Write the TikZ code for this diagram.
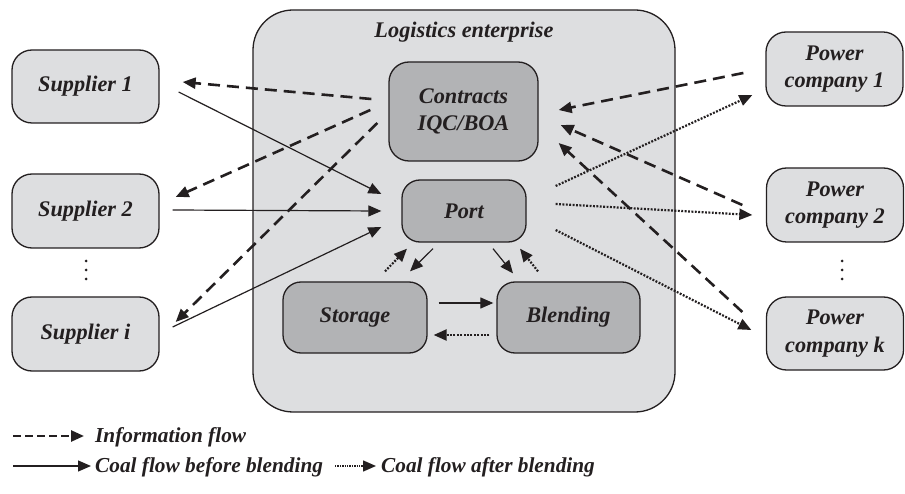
\documentclass[tikz,border=0pt]{standalone}
\usepackage{fontspec}
\setmainfont{Liberation Serif}
\usetikzlibrary{arrows.meta,calc}

\definecolor{lightbox}{RGB}{221,222,224}
\definecolor{darkbox}{RGB}{178,179,181}
\definecolor{inkline}{RGB}{35,31,32}

\tikzset{
  lbl/.style={font=\bfseries\itshape\fontsize{22.3}{27.5}\selectfont, text=inkline},
  keytext/.style={font=\bfseries\itshape\fontsize{21.3}{26}\selectfont, text=inkline,
    anchor=west, inner sep=0pt},
  outerbox/.style={draw=inkline, line width=1.3pt, fill=lightbox,
    rounded corners=40pt, minimum width=422pt, minimum height=402pt, inner sep=0pt},
  sidebox/.style={lbl, draw=inkline, line width=1.3pt, fill=lightbox,
    rounded corners=20pt, align=center, inner sep=0pt},
  corebox/.style={lbl, draw=inkline, line width=1.3pt, fill=darkbox,
    rounded corners=20pt, align=center, inner sep=0pt},
  tip/.style={-{Triangle[length=13pt,width=11pt]}},
  info/.style={tip, draw=inkline, line width=2.6pt, dash pattern=on 12pt off 7pt},
  coal/.style={tip, draw=inkline, line width=1.2pt},
  blended/.style={tip, draw=inkline, line width=2.2pt, dash pattern=on 1.9pt off 1.5pt},
}

\begin{document}
\begin{tikzpicture}[x=1pt, y=-1pt]
\useasboundingbox (0,0) rectangle (905,494);

% logistics enterprise and its units
\node[outerbox] (out) at (464,211) {};
\node[lbl] (title) at (464,32) {Logistics enterprise};
\node[corebox, minimum width=149pt, minimum height=99pt] (con) at (463.5,111.5) {Contracts\\IQC/BOA};
\node[corebox, minimum width=124pt, minimum height=62pt, rounded corners=18pt] (port) at (464,211) {Port};
\node[corebox, minimum width=144pt, minimum height=71pt, rounded corners=18pt] (sto) at (355,317.5) {Storage};
\node[corebox, minimum width=143pt, minimum height=71pt, rounded corners=18pt] (ble) at (568.5,317.5) {Blending};

% suppliers
\node[sidebox, minimum width=147pt, minimum height=73pt] (s1) at (85.5,86.5) {Supplier 1};
\node[sidebox, minimum width=147pt, minimum height=74pt] (s2) at (85.5,211) {Supplier 2};
\node[sidebox, minimum width=147pt, minimum height=74pt] (si) at (85.5,334) {Supplier i};

% power companies
\node[sidebox, minimum width=137pt, minimum height=74pt] (p1) at (834.5,69) {Power\\company 1};
\node[sidebox, minimum width=137pt, minimum height=74pt] (p2) at (835,205) {Power\\company 2};
\node[sidebox, minimum width=137pt, minimum height=73pt] (pk) at (835,333.5) {Power\\company k};

% vertical ellipses
\foreach \yy in {261,270,279} {
  \fill[inkline] (86,\yy) circle (1.5pt);
  \fill[inkline] (842,\yy) circle (1.5pt);
}

% information flow
\draw[info] ($(con.west)+(-17,-12.5)$) -- ($(s1.east)+(23,-4.5)$);
\draw[info] ($(con.west)+(-18,-1.5)$) -- ($(s2.east)+(16,-14)$);
\draw[info] ($(con.west)+(-11,11.5)$) -- ($(si.east)+(16,-12)$);
\draw[info] ($(p1.west)+(-22,4)$) -- ($(con.east)+(20,-1.5)$);
\draw[info] ($(p2.west)+(-23.5,0)$) -- ($(con.east)+(22,13.5)$);
\draw[info] ($(pk.west)+(-23.5,-21.5)$) -- ($(con.east)+(20,31.5)$);

% coal flow before blending
\draw[coal] ($(s1.east)+(19,5.5)$) -- ($(port.west)+(-20,-17)$);
\draw[coal] ($(s2.east)+(13,-1)$) -- ($(port.west)+(-20,0)$);
\draw[coal] ($(si.east)+(13,-7)$) -- ($(port.west)+(-20,16)$);
\draw[coal] ($(port.south)+(-31,6)$) -- ($(sto.north)+(55,-10)$);
\draw[coal] ($(port.south)+(29,6)$) -- ($(ble.north)+(-55.5,-8)$);
\draw[coal] ($(sto.east)+(11,-14.5)$) -- ($(ble.west)+(-3,-14.5)$);

% coal flow after blending
\draw[blended] ($(ble.west)+(-7,17.5)$) -- ($(sto.east)+(6,17.5)$);
\draw[blended] ($(sto.north)+(30,-10)$) -- ($(port.south)+(-57,6)$);
\draw[blended] ($(ble.north)+(-30.5,-10)$) -- ($(port.south)+(56,6)$);
\draw[blended] ($(port.east)+(29,-25)$) -- ($(p1.west)+(-13,26)$);
\draw[blended] ($(port.east)+(29,-7)$) -- ($(p2.west)+(-13.5,10)$);
\draw[blended] ($(port.east)+(29,19)$) -- ($(pk.west)+(-14.5,-3.5)$);

% legend
\coordinate (la) at (13,436);
\coordinate (lb) at (13,466);
\coordinate (lc) at (335,466);
\node[keytext] (lt1) at (95,437) {Information flow};
\node[keytext] (lt2) at (95,467) {Coal flow before blending};
\node[keytext] (lt3) at (381,467) {Coal flow after blending};
\draw[info, dash pattern=on 8pt off 4pt] (la) -- ($(lt1.west)+(-11,-1)$);
\draw[coal] (lb) -- ($(lt2.west)+(-4,-1)$);
\draw[blended, line width=1.5pt, dash pattern=on 1.3pt off 1.1pt] (lc) -- ($(lt3.west)+(-5,-1)$);
\end{tikzpicture}
\end{document}
